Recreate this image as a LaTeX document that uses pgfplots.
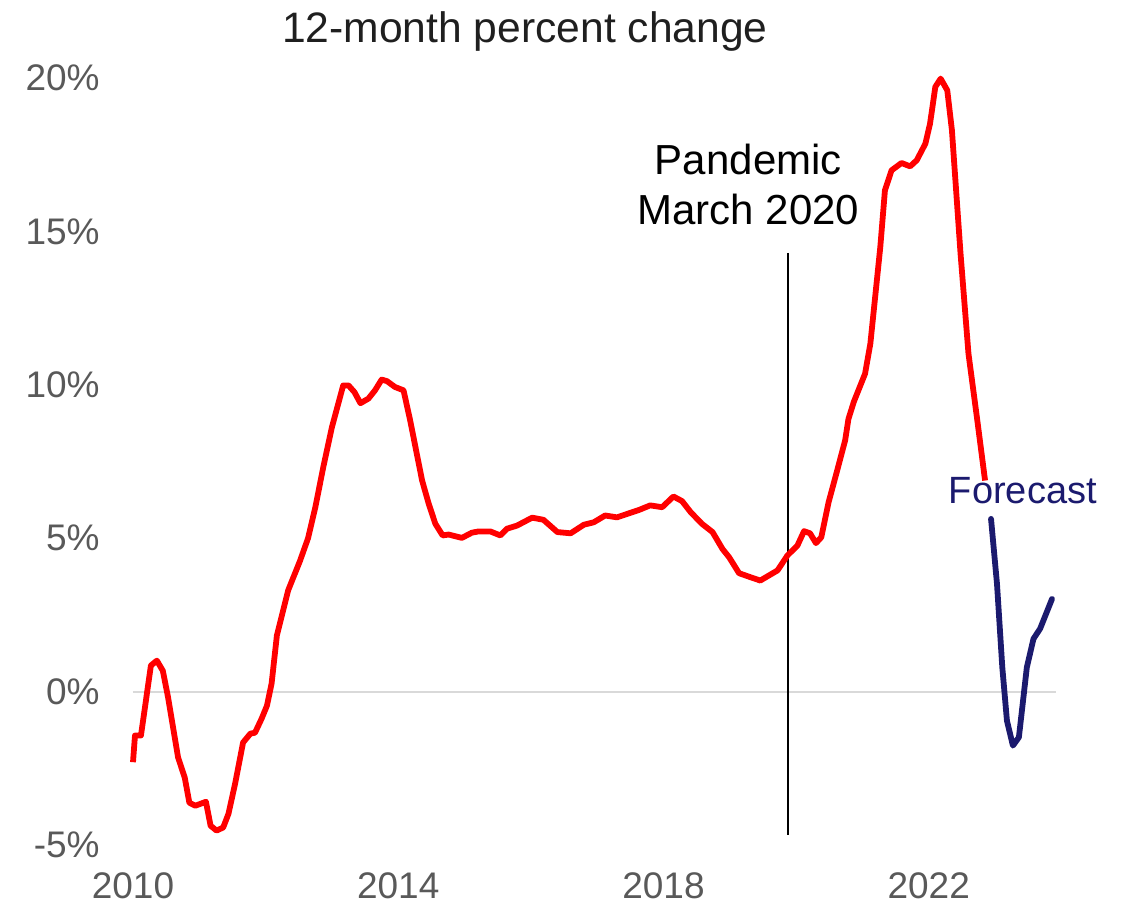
\documentclass[border=0pt]{standalone}
\usepackage{pgfplots}
\pgfplotsset{compat=1.18}
\usepackage{fontspec}
\setmainfont{Liberation Sans}
\definecolor{tickgray}{HTML}{595959}
\definecolor{fcnavy}{HTML}{1B1A6E}
\definecolor{zerogray}{HTML}{D9D9D9}
\definecolor{titlegray}{HTML}{1F1F1F}
\begin{document}
\begin{tikzpicture}
\begin{axis}[
  scale only axis,
  width=461.5pt, height=383.5pt,
  xmin=2010, xmax=2023.92, ymin=-5, ymax=20,
  clip=false,
  axis line style={draw=none},
  major tick length=0pt,
  xtick={2010,2014,2018,2022},
  xticklabels={2010,2014,2018,2022},
  ytick={-5,0,5,10,15,20},
  yticklabels={-5\%,0\%,5\%,10\%,15\%,20\%},
  xticklabel style={font=\fontsize{18.5pt}{22pt}\selectfont, text=tickgray, anchor=north, inner sep=0pt, yshift=-13.5pt},
  yticklabel style={font=\fontsize{18.5pt}{22pt}\selectfont, text=tickgray, anchor=east, inner sep=0pt, xshift=-16.5pt},
]
\coordinate (bl) at (rel axis cs:0,0);
% zero line
\addplot[draw=zerogray, line width=1pt, forget plot] coordinates {(2010,0) (2023.92,0)};
% pandemic line
\addplot[draw=black, line width=0.75pt, forget plot] coordinates {(2019.88,14.30) (2019.88,-4.67)};
% actual
\addplot[draw=red, line width=2.9pt, line join=round] coordinates {
(2010.00,-2.3) (2010.03,-1.43) (2010.12,-1.43) (2010.27,0.85) (2010.36,1.01) (2010.45,0.68)
(2010.53,-0.2) (2010.68,-2.15) (2010.78,-2.8) (2010.85,-3.62) (2010.94,-3.72) (2011.10,-3.59)
(2011.17,-4.37) (2011.26,-4.53) (2011.36,-4.43) (2011.44,-3.98) (2011.54,-3.0) (2011.66,-1.66)
(2011.77,-1.37) (2011.84,-1.34) (2011.94,-0.88) (2012.02,-0.46) (2012.09,0.26) (2012.17,1.83)
(2012.34,3.3) (2012.52,4.27) (2012.64,5.0) (2012.75,6.01) (2012.87,7.32) (2013.00,8.62)
(2013.17,9.98) (2013.25,9.98) (2013.34,9.76) (2013.43,9.40) (2013.55,9.55) (2013.65,9.82)
(2013.75,10.17) (2013.83,10.12) (2013.95,9.93) (2014.08,9.82) (2014.18,8.84) (2014.28,7.75)
(2014.36,6.88) (2014.46,6.12) (2014.56,5.47) (2014.67,5.09) (2014.76,5.12) (2014.96,5.01)
(2015.11,5.18) (2015.21,5.22) (2015.39,5.22) (2015.54,5.09) (2015.64,5.31) (2015.79,5.41)
(2016.02,5.67) (2016.19,5.60) (2016.40,5.20) (2016.60,5.16) (2016.80,5.44) (2016.95,5.52)
(2017.12,5.74) (2017.30,5.68) (2017.45,5.79) (2017.63,5.92) (2017.80,6.07) (2017.98,6.01)
(2018.15,6.36) (2018.28,6.21) (2018.41,5.85) (2018.58,5.47) (2018.74,5.20) (2018.89,4.65)
(2018.99,4.38) (2019.14,3.86) (2019.31,3.73) (2019.46,3.62) (2019.72,3.95) (2019.87,4.44)
(2020.02,4.76) (2020.12,5.23) (2020.21,5.16) (2020.30,4.84) (2020.38,5.03) (2020.49,6.17)
(2020.62,7.21) (2020.74,8.19) (2020.79,8.89) (2020.87,9.44) (2021.04,10.36) (2021.12,11.34)
(2021.27,14.49) (2021.34,16.34) (2021.44,16.99) (2021.59,17.23) (2021.72,17.12) (2021.82,17.32)
(2021.95,17.86) (2022.02,18.51) (2022.10,19.71) (2022.18,19.98) (2022.28,19.6) (2022.35,18.30)
(2022.48,14.28) (2022.60,11.01) (2022.73,8.89) (2022.85,6.88)
};
% forecast
\addplot[draw=fcnavy, line width=2.9pt, line join=round, line cap=round] coordinates {
(2022.94,5.63) (2023.03,3.51) (2023.11,0.79) (2023.18,-0.95) (2023.27,-1.76) (2023.36,-1.49)
(2023.48,0.79) (2023.58,1.72) (2023.68,2.05) (2023.86,3.02)
};
\node[anchor=base, inner sep=0pt, text=titlegray, font=\fontsize{21.3pt}{25pt}\selectfont] at (axis cs:2015.91,21.15) {12-month percent change};
\node[anchor=base, inner sep=0pt, text=black, font=\fontsize{21pt}{25pt}\selectfont] at (axis cs:2019.28,16.87) {Pandemic};
\node[anchor=base, inner sep=0pt, text=black, font=\fontsize{21pt}{25pt}\selectfont] at (axis cs:2019.28,15.21) {March 2020};
\node[anchor=base, inner sep=0pt, text=fcnavy, font=\fontsize{19pt}{23pt}\selectfont] at (axis cs:2023.42,6.14) {Forecast};
\end{axis}
\pgfresetboundingbox
\path[use as bounding box] ([shift={(-66.5pt,-31pt)}]bl) rectangle ([shift={(494.5pt,422.5pt)}]bl);
\end{tikzpicture}
\end{document}
